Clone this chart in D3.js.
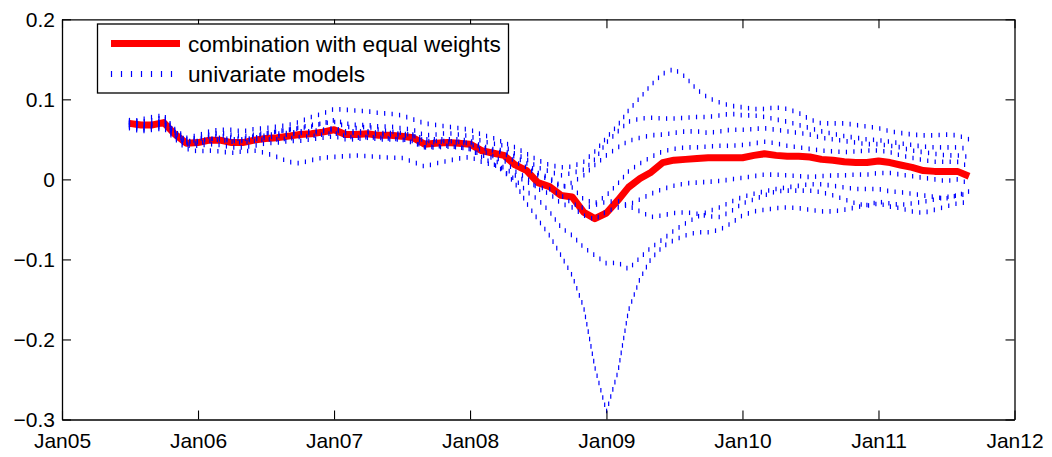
<!DOCTYPE html>
<html>
<head>
<meta charset="utf-8">
<script src="https://cdn.jsdelivr.net/npm/d3@7"></script>
<style>
    body { margin: 0; background: #fff; }
    svg text { font-family: "Liberation Sans", Arial, Helvetica, sans-serif; }
</style>
</head>
<body>
<div id="chart"></div>
<script>
/*CONFIGURATION*/
const config = {
    width: 1052,
    height: 457,
    plot: { left: 62, right: 1014.5, top: 19.3, bottom: 419.5 }
};
const DOT_STEP = 7.5;   // spacing of the dotted marks along a line
const DOT_LEN = 4.6;    // height of one dotted mark

/*DATA*/
// monthly observations, Jul 2005 .. Sep 2011
const firstMonth = new Date(2005, 6, 1);
const afterLastMonth = new Date(2011, 9, 1);
const xTickYears = [2005, 2006, 2007, 2008, 2009, 2010, 2011, 2012];
const yTickValues = [-0.3, -0.2, -0.1, 0, 0.1, 0.2];
const legendLabels = ["combination with equal weights", "univariate models"];

const combination = [
    .070, .068, .068, .071, .056, .045,
    .046, .049, .049, .046, .046, .049, .051, .052, .054, .056, .057, .059,
    .062, .056, .056, .057, .055, .055, .054, .052, .044, .045, .046, .045,
    .044, .036, .033, .030, .018, .011, -.004, -.009, -.020, -.022, -.041, -.049,
    -.042, -.026, -.010, .001, .009, .021, .024, .025, .026, .027, .027, .027,
    .027, .030, .032, .030, .029, .029, .028, .025, .024, .022, .021, .021,
    .023, .021, .018, .015, .011, .010, .010, .010, .004
];

const univariate1 = [
    .072, .075, .078, .080, .062, .052,
    .055, .060, .062, .062, .060, .063, .064, .066, .068, .072, .078, .082,
    .088, .087, .086, .085, .083, .082, .080, .075, .070, .068, .066, .064,
    .062, .056, .052, .046, .040, .032, .024, .018, .015, .016, .022, .035,
    .052, .068, .086, .102, .118, .132, .138, .128, .112, .102, .096, .092,
    .090, .088, .088, .090, .088, .083, .075, .070, .070, .070, .068, .066,
    .064, .060, .058, .056, .055, .055, .056, .055, .050
];
const univariate2 = [
    .068, .066, .070, .074, .058, .046,
    .050, .054, .055, .052, .050, .054, .057, .060, .062, .064, .066, .070,
    .074, .070, .068, .068, .066, .066, .064, .062, .055, .056, .058, .056,
    .054, .048, .045, .042, .032, .025, .015, .010, .005, .008, .012, .025,
    .046, .060, .072, .076, .077, .076, .076, .077, .078, .078, .080, .082,
    .080, .080, .078, .075, .072, .068, .064, .060, .057, .054, .052, .050,
    .049, .047, .045, .043, .041, .040, .040, .040, .038
];
const univariate3 = [
    .070, .070, .069, .072, .060, .048,
    .048, .050, .052, .050, .050, .052, .055, .057, .058, .060, .060, .062,
    .064, .060, .060, .060, .058, .058, .057, .056, .050, .050, .050, .050,
    .048, .042, .038, .036, .028, .020, .008, .002, -.008, -.010, -.025, -.030,
    -.020, -.005, .010, .020, .028, .035, .038, .040, .040, .041, .042, .042,
    .043, .045, .047, .045, .042, .040, .038, .036, .035, .034, .035, .036,
    .036, .034, .030, .027, .024, .022, .022, .022, .016
];
const univariate4 = [
    .066, .062, .064, .066, .052, .042,
    .042, .044, .043, .040, .040, .042, .045, .046, .048, .048, .050, .052,
    .054, .050, .050, .052, .050, .050, .050, .048, .040, .040, .041, .040,
    .038, .030, .027, .024, .010, .002, -.012, -.018, -.030, -.035, -.045, -.050,
    -.040, -.035, -.032, -.025, -.018, -.012, -.008, -.005, -.004, -.003, -.002, .000,
    .002, .004, .006, .006, .005, .004, .003, .004, .005, .005, .006, .006,
    .008, .008, .006, .004, .002, .000, -.002, .000, -.005
];
const univariate5 = [
    .064, .060, .062, .064, .050, .038,
    .035, .036, .035, .033, .035, .036, .033, .028, .022, .020, .024, .027,
    .028, .029, .030, .029, .028, .027, .027, .022, .016, .020, .023, .026,
    .028, .022, .018, .015, .005, -.003, -.010, -.012, -.020, -.030, -.036, -.032,
    -.028, -.027, -.033, -.040, -.047, -.045, -.042, -.041, -.043, -.046, -.047, -.040,
    -.030, -.025, -.020, -.015, -.014, -.014, -.014, -.016, -.020, -.025, -.030, -.033,
    -.030, -.034, -.036, -.040, -.042, -.038, -.034, -.030, -.028
];
const univariate6 = [
    .068, .064, .066, .070, .054, .044,
    .045, .048, .050, .047, .046, .048, .050, .050, .051, .053, .054, .056,
    .058, .054, .052, .053, .052, .051, .050, .046, .040, .041, .042, .040,
    .038, .028, .020, .010, .000, -.015, -.025, -.040, -.060, -.070, -.085, -.095,
    -.105, -.104, -.112, -.098, -.085, -.075, -.064, -.055, -.047, -.040, -.035, -.028,
    -.022, -.018, -.015, -.012, -.010, -.008, -.006, -.006, -.008, -.010, -.012, -.012,
    -.012, -.015, -.016, -.018, -.020, -.022, -.024, -.020, -.015
];
const univariate7 = [
    .074, .072, .074, .078, .060, .050,
    .052, .056, .058, .056, .054, .056, .058, .060, .062, .065, .068, .070,
    .072, .066, .064, .066, .062, .060, .058, .055, .048, .048, .048, .047,
    .045, .036, .030, .010, -.005, -.030, -.050, -.070, -.095, -.120, -.160, -.235,
    -.290, -.240, -.164, -.124, -.099, -.084, -.076, -.070, -.066, -.066, -.063, -.055,
    -.045, -.040, -.038, -.036, -.035, -.036, -.038, -.040, -.040, -.038, -.035, -.032,
    -.028, -.030, -.032, -.030, -.028, -.025, -.022, -.020, -.018
];
const univariate8 = [
    .071, .069, .067, .070, .057, .047,
    .047, .051, .050, .048, .048, .050, .052, .054, .056, .058, .058, .060,
    .062, .058, .058, .058, .056, .056, .055, .054, .046, .047, .047, .046,
    .046, .040, .036, .033, .022, .015, .005, .000, -.010, -.004, .005, .018,
    .030, .040, .048, .052, .055, .056, .058, .060, .060, .058, .060, .062,
    .062, .063, .064, .062, .060, .058, .056, .052, .050, .048, .046, .044,
    .044, .042, .040, .036, .034, .032, .030, .030, .028
];
const univariate = [univariate1, univariate2, univariate3, univariate4,
                    univariate5, univariate6, univariate7, univariate8];

const months = d3.timeMonth.range(firstMonth, afterLastMonth);

// main SVG container
const svg = d3.select("#chart")
    .append("svg")
    .attr("width", config.width)
    .attr("height", config.height)
    .style("display", "block");

svg.append("rect")
    .attr("width", config.width)
    .attr("height", config.height)
    .attr("fill", "#fff");

/*SCALES*/
const x = d3.scaleTime()
    .domain([new Date(xTickYears[0], 0, 1), new Date(xTickYears[xTickYears.length - 1], 0, 1)])
    .range([config.plot.left, config.plot.right]);

const y = d3.scaleLinear()
    .domain([yTickValues[0], yTickValues[yTickValues.length - 1]])
    .range([config.plot.bottom, config.plot.top]);

const line = d3.line()
    .x((d, i) => x(months[i]))
    .y(d => y(d));

/*LINES*/
// combination (thick red)
svg.append("path")
    .datum(combination)
    .attr("d", line)
    .attr("fill", "none")
    .attr("stroke", "#ff0000")
    .attr("stroke-width", 7)
    .attr("stroke-linejoin", "round");

// univariate models: dotted, each dot a small upright mark
univariate.forEach(series => {
    const path = svg.append("path")
        .datum(series)
        .attr("d", line)
        .attr("fill", "none")
        .attr("stroke", "none");
    const node = path.node();
    const len = node.getTotalLength();
    const pts = d3.range(0, len, DOT_STEP).map(s => node.getPointAtLength(s));
    svg.append("g")
        .selectAll("line")
        .data(pts)
        .join("line")
        .attr("x1", p => p.x)
        .attr("x2", p => p.x)
        .attr("y1", p => p.y - DOT_LEN / 2)
        .attr("y2", p => p.y + DOT_LEN / 2)
        .attr("stroke", "#0000ff")
        .attr("stroke-width", 1.2);
});

/*AXES*/
const xTicks = xTickYears.map(yr => new Date(yr, 0, 1));
const fmtY = d => d === 0 ? "0" : d3.format(".1f")(d);

function styleAxis(g) {
    g.attr("font-size", 21).attr("font-family", null);
    g.selectAll("text").attr("fill", "#000");
    g.selectAll("line").attr("stroke", "#000").attr("stroke-width", 1.1);
    g.select(".domain").attr("stroke", "#000").attr("stroke-width", 1.3);
}

svg.append("g")
    .attr("transform", `translate(0,${config.plot.bottom})`)
    .call(d3.axisBottom(x).tickValues(xTicks).tickFormat(d3.timeFormat("%b%y"))
        .tickSizeInner(-9).tickSizeOuter(0).tickPadding(14))
    .call(styleAxis);

svg.append("g")
    .attr("transform", `translate(0,${config.plot.top})`)
    .call(d3.axisTop(x).tickValues(xTicks).tickFormat("")
        .tickSizeInner(-9).tickSizeOuter(0))
    .call(styleAxis);

svg.append("g")
    .attr("transform", `translate(${config.plot.left},0)`)
    .call(d3.axisLeft(y).tickValues(yTickValues).tickFormat(fmtY)
        .tickSizeInner(-9).tickSizeOuter(0).tickPadding(7))
    .call(styleAxis);

svg.append("g")
    .attr("transform", `translate(${config.plot.right},0)`)
    .call(d3.axisRight(y).tickValues(yTickValues).tickFormat("")
        .tickSizeInner(-9).tickSizeOuter(0))
    .call(styleAxis);

/*LEGEND*/
const legend = svg.append("g").attr("transform", "translate(97.5,24)");

legend.append("rect")
    .attr("width", 411)
    .attr("height", 69)
    .attr("fill", "#fff")
    .attr("stroke", "#000")
    .attr("stroke-width", 1.3);

legend.append("line")
    .attr("x1", 13.5).attr("x2", 82.5)
    .attr("y1", 19.5).attr("y2", 19.5)
    .attr("stroke", "#ff0000")
    .attr("stroke-width", 7);

legend.append("g")
    .selectAll("line")
    .data(d3.range(14, 83, 10))
    .join("line")
    .attr("x1", d => d).attr("x2", d => d)
    .attr("y1", 47).attr("y2", 53)
    .attr("stroke", "#0000ff")
    .attr("stroke-width", 1.2);

legend.selectAll("text")
    .data(legendLabels)
    .join("text")
    .attr("x", 90.5)
    .attr("y", (d, i) => 27.5 + i * 30)
    .attr("font-size", 22.6)
    .attr("fill", "#000")
    .text(d => d);
</script>
</body>
</html>
